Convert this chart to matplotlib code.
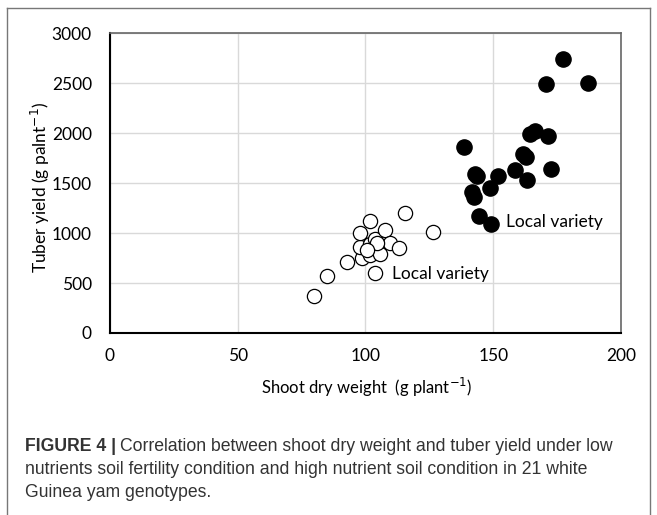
import matplotlib.pyplot as plt
from matplotlib.lines import Line2D

# low nutrient (open) and high nutrient (filled) genotypes
low_x = [79.9, 84.8, 92.8, 98.7, 97.8, 97.7, 101.7, 101.7, 101.7, 103.6, 103.6,
         105.8, 107.5, 109.7, 113.0, 115.6, 126.6, 104.5, 100.5]
low_y = [370, 570, 710, 750, 860, 1000, 1117, 893, 777, 605, 943,
         793, 1033, 903, 853, 1200, 1007, 900, 830]
high_x = [138.7, 142.9, 141.5, 142.6, 144.4, 149.3, 148.7, 151.7, 158.4, 163.3,
          161.7, 163.0, 172.5, 164.3, 166.2, 171.4, 177.2, 170.5, 187.0, 143.8]
high_y = [1860, 1594, 1410, 1360, 1167, 1094, 1454, 1567, 1634, 1534,
          1794, 1760, 1644, 1990, 2025, 1967, 2744, 2494, 2500, 1575]

xticks = [0, 50, 100, 150, 200]
yticks = [0, 500, 1000, 1500, 2000, 2500, 3000]

fnt = 'Lato'
fig = plt.figure(figsize=(6.57, 5.15), dpi=100)
ax = fig.add_axes([0.1674, 0.3534, 0.7778, 0.5825])

ax.scatter(low_x, low_y, s=105, facecolors='white', edgecolors='black', linewidths=0.9, zorder=3)
ax.scatter(high_x, high_y, s=120, color='black', zorder=4)

ax.set_xlim(0, 200)
ax.set_ylim(0, 3000)
ax.set_xticks(xticks)
ax.set_yticks(yticks)
ax.grid(True, color='#d9d9d9', linewidth=1)
ax.set_axisbelow(True)
ax.tick_params(length=0, labelsize=12.5, pad=11)
ax.tick_params(axis='y', pad=13)
for lab in ax.get_xticklabels() + ax.get_yticklabels():
    lab.set_fontfamily(fnt)

for s in ['top', 'right']:
    ax.spines[s].set_color('#666666')
    ax.spines[s].set_linewidth(1.2)
for s in ['left', 'bottom']:
    ax.spines[s].set_color('black')
    ax.spines[s].set_linewidth(1.5)

ax.set_xlabel('Shoot dry weight  (g plant$^{-1}$)', fontsize=12, family=fnt)
ax.set_ylabel('Tuber yield (g palnt$^{-1}$)', fontsize=12.5, family=fnt)
ax.xaxis.set_label_coords(0.502, -0.143)
ax.yaxis.set_label_coords(-0.1135, 0.485)

ax.text(110.5, 590, 'Local variety', fontsize=12.5, family=fnt, va='center')
ax.text(155, 1110, 'Local variety', fontsize=12.5, family=fnt, va='center')

# caption
cap = '#333333'
cfs = 12.7
t0 = fig.text(0.038, 0.124, 'FIGURE 4 |', fontsize=cfs, weight='bold', color=cap,
              family='Liberation Sans', va='baseline')
fig.canvas.draw()
bb = t0.get_window_extent()
fig.text((bb.x1 + 4) / fig.bbox.width, 0.124,
         'Correlation between shoot dry weight and tuber yield under low',
         fontsize=cfs, color=cap, family='Liberation Sans', va='baseline')
fig.text(0.038, 0.079, 'nutrients soil fertility condition and high nutrient soil condition in 21 white',
         fontsize=cfs, color=cap, family='Liberation Sans', va='baseline')
fig.text(0.038, 0.034, 'Guinea yam genotypes.', fontsize=cfs, color=cap,
         family='Liberation Sans', va='baseline')

# outer frame
for xs, ys in [([0.011, 0.011], [0, 0.985]), ([0.011, 0.989], [0.985, 0.985]), ([0.989, 0.989], [0, 0.985])]:
    fig.add_artist(Line2D(xs, ys, color='#777777', linewidth=1))

fig.savefig('out.png', dpi=100)
